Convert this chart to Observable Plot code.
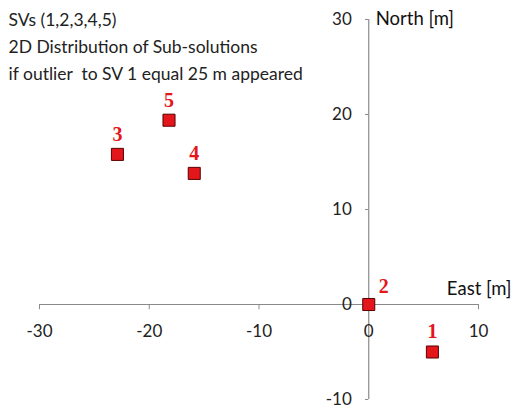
<!DOCTYPE html>
<html>
<head>
<meta charset="utf-8">
<script src="https://cdn.jsdelivr.net/npm/d3@7"></script>
<script src="https://cdn.jsdelivr.net/npm/@observablehq/plot@0.6"></script>
<style>
  body { margin: 0; background: #fff; }
  #chart { width: 520px; height: 411px; }
</style>
</head>
<body>
<div id="chart"></div>
<script>
const svs = ["1", "2", "3", "4", "5"];
const east = [5.8, 0, -22.9, -15.9, -18.2];
const north = [-5.0, 0, 15.8, 13.8, 19.4];
const xTicks = [-30, -20, -10, 0, 10];
const yTicks = [-10, 0, 10, 20, 30];
const titleLines = ["SVs (1,2,3,4,5)", "2D Distribution of Sub-solutions", "if outlier  to SV 1 equal 25 m appeared"];
const xLabel = "East [m]";
const yLabel = "North [m]";

const pts = svs.map((s, i) => ({id: s, x: east[i], y: north[i]}));
const font = "Lato, 'Open Sans', sans-serif";
const axisColor = "#8a8a8a";
const red = "#e3161c";
const serif = "'Liberation Serif', 'DejaVu Serif', serif";

const chart = Plot.plot({
  width: 520,
  height: 411,
  marginLeft: 39,
  marginRight: 42,
  marginTop: 19,
  marginBottom: 12,
  style: {fontFamily: font, background: "#fff"},
  x: {domain: [-30, 10], axis: null},
  y: {domain: [-10, 30], axis: null},
  marks: [
    Plot.ruleY([0], {x1: xTicks[0], x2: xTicks[xTicks.length - 1], stroke: axisColor, strokeWidth: 1.2}),
    Plot.ruleX([0], {y1: yTicks[0], y2: yTicks[yTicks.length - 1], stroke: axisColor, strokeWidth: 1.2}),
    Plot.ruleX(xTicks, {x: d => d, y1: 0, y2: -0.55, stroke: axisColor}),
    Plot.ruleY(yTicks, {y: d => d, x1: -0.3, x2: 0, stroke: axisColor}),
    Plot.text(xTicks, {x: d => d, y: 0, dy: 27, text: d => String(d), fontSize: 17, fill: "#222"}),
    Plot.text(yTicks, {x: 0, y: d => d, dx: -17, textAnchor: "end", text: d => String(d), fontSize: 17, fill: "#222"}),
    Plot.text([yLabel], {x: 0, y: yTicks[yTicks.length - 1], dx: 7, textAnchor: "start", text: d => d, fontSize: 18.5, fill: "#111"}),
    Plot.text([xLabel], {x: xTicks[xTicks.length - 1], y: 0, dx: 33, dy: -15, textAnchor: "end", text: d => d, fontSize: 18.5, fill: "#111"}),
    Plot.text([titleLines.join("\n")], {frameAnchor: "top-left", dx: -31, dy: -12, textAnchor: "start", lineAnchor: "top", lineHeight: 1.52, text: d => d, fontSize: 17.5, fill: "#222"}),
    Plot.dot(pts, {x: "x", y: "y", symbol: "square", r: 6.8, fill: red, stroke: "#5a0000", strokeWidth: 1}),
    Plot.text(pts.filter(d => d.id !== "2"), {x: "x", y: "y", dy: -20, text: "id", fontSize: 20, fontWeight: "bold", fontFamily: serif, fill: red}),
    Plot.text(pts.filter(d => d.id === "2"), {x: "x", y: "y", dx: 15, dy: -18, text: "id", fontSize: 20, fontWeight: "bold", fontFamily: serif, fill: red})
  ]
});
document.getElementById("chart").appendChild(chart);
</script>
</body>
</html>
